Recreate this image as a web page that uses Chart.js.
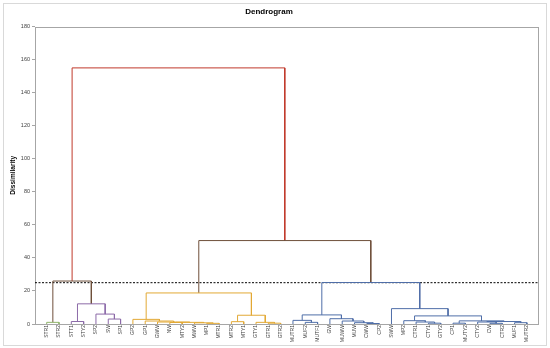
<!DOCTYPE html>
<html>
<head>
<meta charset="utf-8">
<script src="https://cdn.jsdelivr.net/npm/chart.js@4.4.1/dist/chart.umd.min.js"></script>
<style>
    html, body { margin: 0; padding: 0; background: #fff; }
    canvas { display: block; }
</style>
</head>
<body>
<canvas id="dendroChart" width="550" height="348"></canvas>
<script>

// =====================
// DATA
// =====================

const leaves = [
    "STR1", "STR2", "STT1", "STY2", "SP2", "SW", "SP1", "GP2", "GP1", "GWW",
    "NW", "MTY2", "MWW", "MP1", "MTR1", "MTR2", "MTY1", "GTY1", "GTR1", "GTR2",
    "MUTR1", "MUF2", "MUTF1", "GW", "MUWW", "MUW", "CWW", "CP2", "SWW", "MP2",
    "CTR1", "CTY1", "GTY2", "CP1", "MUTY2", "CTY2", "CW", "CTR2", "MUF1", "MUTR2"
];

// merges: node ids 0..39 are leaves, merge k creates node 40 + k
const mergePairs = [
    [0, 1],   [2, 3],   [5, 6],   [4, 42],  [41, 43], [40, 44],            // 40-45
    [13, 14], [12, 46], [10, 11], [48, 47], [9, 49],  [8, 50],  [7, 51],   // 46-52
    [15, 16], [18, 19], [17, 54], [53, 55], [52, 56],                      // 53-57
    [21, 22], [20, 58], [26, 27], [25, 60], [24, 61], [23, 62], [59, 63],  // 58-64
    [31, 32], [30, 65], [29, 66], [33, 34], [36, 37], [35, 69], [38, 39],  // 65-71
    [70, 71], [68, 72], [67, 73], [28, 74], [64, 75],                      // 72-76
    [57, 76], [45, 77]                                                     // 77-78
];

const mergeHeights = [
    1.0, 1.5, 3.0, 6.0, 12.2, 26.0,
    0.4, 0.7, 0.9, 1.0, 1.2, 1.8, 2.8,
    1.4, 0.5, 1.0, 5.3, 18.8,
    1.0, 2.2, 0.3, 0.8, 1.8, 3.2, 5.5,
    0.5, 1.2, 2.0, 0.5, 0.4, 1.2, 0.8,
    1.5, 1.9, 4.9, 9.3, 25.1,
    50.5, 155.0
];

// cluster each merge belongs to
const mergeGroups = [
    "g", "p", "p", "p", "p", "k",
    "o", "o", "o", "o", "o", "o", "o",
    "o", "o", "o", "o", "o",
    "b", "b", "b", "b", "b", "b", "b",
    "b", "b", "b", "b", "b", "b", "b",
    "b", "b", "b", "b", "b",
    "k", "r"
];

const cutLevel = 25;

const yTicks = [0, 20, 40, 60, 80, 100, 120, 140, 160, 180];


// =====================
// STYLE
// =====================

const GROUP_COLORS = {
    g: "#8fb46a",
    p: "#8c6aa8",
    o: "#e2a935",
    b: "#4f6ea8",
    k: "#6e4f3a",
    r: "#c0392b"
};

const FONT = "'Liberation Sans', Arial, sans-serif";
const X_MIN = -0.95;
const X_MAX = 39.9;


// =====================
// BUILD LINKS
// =====================

const nodeX = leaves.map((_, i) => i);
const nodeY = leaves.map(() => 0);

mergePairs.forEach(([a, b], k) => {
    nodeX.push((nodeX[a] + nodeX[b]) / 2);
    nodeY.push(mergeHeights[k]);
});

const linkSets = mergePairs.map(([a, b], k) => ({
    data: [
        { x: nodeX[a], y: nodeY[a] },
        { x: nodeX[a], y: mergeHeights[k] },
        { x: nodeX[b], y: mergeHeights[k] },
        { x: nodeX[b], y: nodeY[b] }
    ],
    showLine: true,
    borderColor: GROUP_COLORS[mergeGroups[k]],
    borderWidth: 1,
    pointRadius: 0,
    tension: 0
}));

linkSets.push({
    data: [{ x: X_MIN, y: cutLevel }, { x: X_MAX, y: cutLevel }],
    showLine: true,
    borderColor: "#000",
    borderWidth: 1,
    borderDash: [2, 1.5],
    pointRadius: 0
});

// plot frame + outer chart border
const frame = {
    id: "frame",
    beforeDraw(chart) {
        const ctx = chart.ctx;
        ctx.save();
        ctx.strokeStyle = "#d9d9d9";
        ctx.lineWidth = 1;
        ctx.strokeRect(3.5, 3.5, chart.width - 7, chart.height - 6);
        ctx.restore();
    },
    beforeDatasetsDraw(chart) {
        const { ctx, chartArea: a } = chart;
        ctx.save();
        ctx.strokeStyle = "#a6a6a6";
        ctx.lineWidth = 1;
        ctx.strokeRect(Math.round(a.left) + 0.5, Math.round(a.top) + 0.5,
            Math.round(a.right - a.left), Math.round(a.bottom - a.top));
        ctx.restore();
    }
};

new Chart(document.getElementById("dendroChart"), {
    type: "scatter",
    data: { datasets: linkSets },
    plugins: [frame],
    options: {
        responsive: false,
        animation: false,
        layout: { padding: { top: 0, right: 12, bottom: 0, left: 0 } },
        plugins: {
            legend: { display: false },
            tooltip: { enabled: false },
            title: {
                display: true,
                text: "Dendrogram",
                color: "#000",
                font: { family: FONT, size: 8, weight: "bold" },
                padding: { top: 7, bottom: 10 }
            }
        },
        scales: {
            x: {
                type: "linear",
                min: X_MIN,
                max: X_MAX,
                afterBuildTicks: s => { s.ticks = leaves.map((_, i) => ({ value: i })); },
                afterFit: s => { s.height = 24; },
                grid: { display: false, drawTicks: false, tickLength: 0 },
                border: { display: false },
                ticks: {
                    autoSkip: false,
                    maxRotation: 90,
                    minRotation: 90,
                    padding: 1,
                    color: "#404040",
                    font: { family: FONT, size: 5 },
                    callback: v => leaves[v]
                }
            },
            y: {
                min: 0,
                max: 180,
                afterBuildTicks: s => { s.ticks = yTicks.map(v => ({ value: v })); },
                afterFit: s => { s.width = 35; },
                grid: { drawOnChartArea: false, tickLength: 3, color: "#a6a6a6" },
                border: { display: false },
                ticks: {
                    padding: 2,
                    color: "#404040",
                    font: { family: FONT, size: 5.5 }
                },
                title: {
                    display: true,
                    text: "Dissimilarity",
                    color: "#000",
                    padding: { top: 9, bottom: 0 },
                    font: { family: FONT, size: 6.5, weight: "bold" }
                }
            }
        }
    }
});

</script>
</body>
</html>
